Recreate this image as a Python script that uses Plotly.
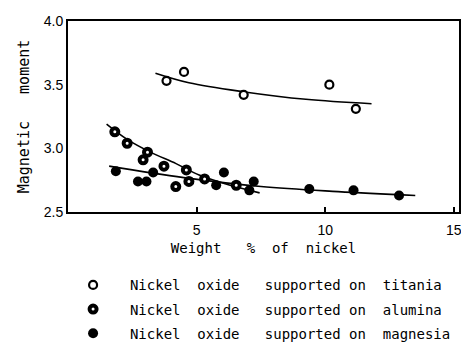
import plotly.graph_objects as go

# Data (weight % Ni vs magnetic moment)
titania_x = [3.83, 4.51, 6.83, 10.16, 11.19]
titania_y = [3.53, 3.60, 3.42, 3.50, 3.31]

alumina_x = [1.82, 2.30, 3.09, 2.92, 3.73, 4.60, 5.31, 6.54, 4.70, 4.19]
alumina_y = [3.13, 3.04, 2.97, 2.91, 2.86, 2.83, 2.76, 2.71, 2.74, 2.70]

magnesia_x = [1.86, 2.72, 3.05, 3.31, 5.76, 6.06, 7.22, 7.05, 9.38, 11.10, 12.87]
magnesia_y = [2.82, 2.74, 2.74, 2.81, 2.71, 2.81, 2.74, 2.67, 2.68, 2.67, 2.63]

# Hand-drawn trend curves
titania_fit_x = [3.4, 4.7, 6.8, 9.25, 11.8]
titania_fit_y = [3.59, 3.515, 3.445, 3.385, 3.35]
alumina_fit_x = [1.5, 2.3, 3.2, 4.2, 5.1, 6.3, 7.45]
alumina_fit_y = [3.19, 3.07, 2.97, 2.88, 2.79, 2.71, 2.65]
magnesia_fit_x = [1.6, 4.5, 7.5, 10.5, 13.5]
magnesia_fit_y = [2.86, 2.77, 2.70, 2.66, 2.63]

x_ticks = [5, 10, 15]
x_tick_labels = ["5", "10", "15"]
y_ticks = [2.5, 3.0, 3.5, 4.0]
y_tick_labels = ["2.5", "3.0", "3.5", "4.0"]

names = [
    "\u00a0\u00a0Nickel\u00a0\u00a0oxide\u00a0\u00a0\u00a0supported\u00a0on\u00a0\u00a0titania",
    "\u00a0\u00a0Nickel\u00a0\u00a0oxide\u00a0\u00a0\u00a0supported\u00a0on\u00a0\u00a0alumina",
    "\u00a0\u00a0Nickel\u00a0\u00a0oxide\u00a0\u00a0\u00a0supported\u00a0on\u00a0\u00a0magnesia",
]

MONO = "DejaVu Sans Mono, Liberation Mono, monospace"

fig = go.Figure()

for fx, fy in [(titania_fit_x, titania_fit_y), (alumina_fit_x, alumina_fit_y),
               (magnesia_fit_x, magnesia_fit_y)]:
    fig.add_trace(go.Scatter(x=fx, y=fy, mode="lines", line=dict(color="black", width=1.6, shape="spline"),
                             showlegend=False, hoverinfo="skip"))

fig.add_trace(go.Scatter(x=titania_x, y=titania_y, mode="markers", name=names[0], legendgroup="a",
                         marker=dict(symbol="circle", size=8, color="white",
                                     line=dict(color="black", width=2.2))))
fig.add_trace(go.Scatter(x=alumina_x, y=alumina_y, mode="markers", name=names[1], legendgroup="b",
                         marker=dict(symbol="circle", size=7, color="white",
                                     line=dict(color="black", width=4))))
fig.add_trace(go.Scatter(x=magnesia_x, y=magnesia_y, mode="markers", name=names[2], legendgroup="c",
                         marker=dict(symbol="circle", size=10, color="black",
                                     line=dict(color="black", width=0))))

fig.update_layout(
    width=461, height=344,
    margin=dict(l=68, r=2, t=21, b=132, autoexpand=False),
    paper_bgcolor="white", plot_bgcolor="white",
    font=dict(family=MONO, size=14, color="black"),
    legend=dict(x=0.013, xanchor="left", y=-0.30, yanchor="top",
                font=dict(family=MONO, size=14, color="black"),
                tracegroupgap=3, traceorder="grouped", bgcolor="rgba(0,0,0,0)"),
    xaxis=dict(range=[0, 15.2], tickvals=x_ticks, ticktext=x_tick_labels,
               ticks="inside", ticklen=5, tickwidth=1.5, tickcolor="black",
               showgrid=False, zeroline=False, showline=True, linecolor="black", linewidth=2,
               mirror=True, ticklabelstandoff=4, ticklabeloverflow="allow", automargin=False,
               tickfont=dict(family="Liberation Sans, Arial, sans-serif", size=14),
               title=dict(text="Weight\u00a0\u00a0\u00a0%\u00a0\u00a0of\u00a0\u00a0nickel",
                          font=dict(family=MONO, size=14), standoff=6)),
    yaxis=dict(range=[2.5, 4.0], tickvals=y_ticks, ticktext=y_tick_labels,
               ticks="", showgrid=False, zeroline=False, showline=True, linecolor="black",
               linewidth=2, mirror=True, automargin=False,
               tickfont=dict(family="Liberation Sans, Arial, sans-serif", size=14),
               title=dict(text="Magnetic\u00a0\u00a0\u00a0moment",
                          font=dict(family=MONO, size=15), standoff=10)),
)

fig.write_html("out.html")
